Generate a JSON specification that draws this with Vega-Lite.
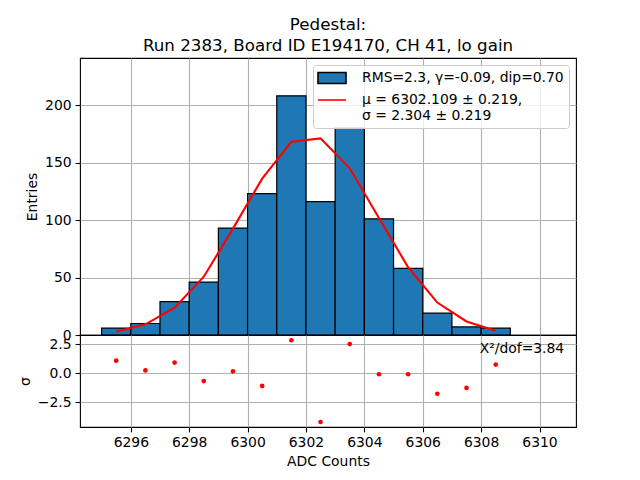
{
  "$schema": "https://vega.github.io/schema/vega-lite/v6.json",
  "autosize": "none",
  "padding": {"left": 80, "top": 58, "right": 560, "bottom": 422},
  "background": "white",
  "spacing": 0,
  "bounds": "flush",
  "title": {
    "text": ["Pedestal:", "Run 2383, Board ID E194170, CH 41, lo gain"],
    "font": "DejaVu Sans",
    "fontSize": 16.7,
    "fontWeight": "normal",
    "color": "black",
    "anchor": "middle",
    "frame": "group",
    "lineHeight": 20.6,
    "offset": 3
  },
  "config": {
    "font": "DejaVu Sans",
    "view": {"stroke": "black", "strokeWidth": 1.1},
    "axis": {
      "labelFont": "DejaVu Sans",
      "labelFontSize": 13.9,
      "labelColor": "black",
      "titleFont": "DejaVu Sans",
      "titleFontSize": 13.9,
      "titleFontWeight": "normal",
      "titleColor": "black",
      "tickColor": "black",
      "tickSize": 4.9,
      "tickWidth": 1.1,
      "labelPadding": 4,
      "titlePadding": 5,
      "domain": false,
      "grid": true,
      "gridColor": "#b0b0b0",
      "gridWidth": 1.1,
      "zindex": 1
    }
  },
  "datasets": {
    "hist": [
      {"lo": 6295, "hi": 6296, "count": 6},
      {"lo": 6296, "hi": 6297, "count": 10},
      {"lo": 6297, "hi": 6298, "count": 29},
      {"lo": 6298, "hi": 6299, "count": 46},
      {"lo": 6299, "hi": 6300, "count": 93},
      {"lo": 6300, "hi": 6301, "count": 123},
      {"lo": 6301, "hi": 6302, "count": 208},
      {"lo": 6302, "hi": 6303, "count": 116},
      {"lo": 6303, "hi": 6304, "count": 180},
      {"lo": 6304, "hi": 6305, "count": 101},
      {"lo": 6305, "hi": 6306, "count": 58},
      {"lo": 6306, "hi": 6307, "count": 19},
      {"lo": 6307, "hi": 6308, "count": 7},
      {"lo": 6308, "hi": 6309, "count": 6}
    ],
    "fit": [
      {"adc": 6295.5, "entries": 2.9},
      {"adc": 6296.5, "entries": 9.3},
      {"adc": 6297.5, "entries": 23.8},
      {"adc": 6298.5, "entries": 50.7},
      {"adc": 6299.5, "entries": 92.5},
      {"adc": 6300.5, "entries": 136},
      {"adc": 6301.5, "entries": 168},
      {"adc": 6302.5, "entries": 171},
      {"adc": 6303.5, "entries": 145},
      {"adc": 6304.5, "entries": 101.8},
      {"adc": 6305.5, "entries": 58.9},
      {"adc": 6306.5, "entries": 28.2},
      {"adc": 6307.5, "entries": 11.8},
      {"adc": 6308.5, "entries": 3.6}
    ],
    "resid": [
      {"adc": 6295.5, "sigma": 1.08},
      {"adc": 6296.5, "sigma": 0.25},
      {"adc": 6297.5, "sigma": 0.92},
      {"adc": 6298.5, "sigma": -0.67},
      {"adc": 6299.5, "sigma": 0.17},
      {"adc": 6300.5, "sigma": -1.08},
      {"adc": 6301.5, "sigma": 2.83},
      {"adc": 6302.5, "sigma": -4.17},
      {"adc": 6303.5, "sigma": 2.5},
      {"adc": 6304.5, "sigma": -0.08},
      {"adc": 6305.5, "sigma": -0.08},
      {"adc": 6306.5, "sigma": -1.75},
      {"adc": 6307.5, "sigma": -1.25},
      {"adc": 6308.5, "sigma": 0.75}
    ]
  },
  "vconcat": [
    {
      "width": 496,
      "height": 277,
      "layer": [
        {
          "data": {"name": "hist"},
          "mark": {"type": "bar", "stroke": "black", "strokeWidth": 1.2, "opacity": 1},
          "encoding": {
            "x": {
              "field": "lo", "type": "quantitative",
              "scale": {"domain": [6294.26, 6311.25], "nice": false, "zero": false},
              "axis": {"values": [6296, 6298, 6300, 6302, 6304, 6306, 6308, 6310], "labels": false, "ticks": false, "title": null, "minExtent": 0, "maxExtent": 0}
            },
            "x2": {"field": "hi"},
            "y": {
              "field": "count", "type": "quantitative",
              "scale": {"domain": [0, 240.9], "nice": false},
              "axis": {"values": [0, 50, 100, 150, 200], "title": "Entries"}
            },
            "y2": {"datum": 0},
            "fill": {
              "datum": "RMS=2.3, γ=-0.09, dip=0.70",
              "type": "nominal",
              "scale": {
                "domain": ["RMS=2.3, γ=-0.09, dip=0.70", "μ = 6302.109 ± 0.219,|σ = 2.304 ± 0.219"],
                "range": ["#1f77b4", "transparent"]
              },
              "legend": {
                "title": null,
                "orient": "top-right",
                "offset": 7,
                "padding": 5,
                "fillColor": "rgba(255,255,255,0.8)",
                "strokeColor": "#cccccc",
                "cornerRadius": 3,
                "labelFont": "DejaVu Sans",
                "labelFontSize": 13.9,
                "labelColor": "black",
                "labelLimit": 0,
                "labelOffset": 22,
                "symbolOffset": 6,
                "rowPadding": 5,
                "symbolSize": 196,
                "symbolOpacity": 1,
                "symbolStrokeWidth": 1.6,
                "labelExpr": "split(datum.label, '|')"
              }
            }
          }
        },
        {
          "data": {"name": "fit"},
          "mark": {"type": "line", "strokeWidth": 2.1},
          "encoding": {
            "x": {"field": "adc", "type": "quantitative"},
            "y": {"field": "entries", "type": "quantitative"},
            "stroke": {
              "datum": "μ = 6302.109 ± 0.219,|σ = 2.304 ± 0.219",
              "type": "nominal",
              "scale": {
                "domain": ["RMS=2.3, γ=-0.09, dip=0.70", "μ = 6302.109 ± 0.219,|σ = 2.304 ± 0.219"],
                "range": ["black", "red"]
              },
              "legend": {"title": null}
            }
          }
        },
        {
          "data": {"name": "fit"},
          "mark": {"type": "point", "size": 0, "opacity": 0, "filled": false, "strokeWidth": 0},
          "encoding": {
            "x": {"field": "adc", "type": "quantitative"},
            "y": {"field": "entries", "type": "quantitative"},
            "shape": {
              "datum": "μ = 6302.109 ± 0.219,|σ = 2.304 ± 0.219",
              "type": "nominal",
              "scale": {
                "domain": ["RMS=2.3, γ=-0.09, dip=0.70", "μ = 6302.109 ± 0.219,|σ = 2.304 ± 0.219"],
                "range": ["M-2,-0.78H2V0.78H-2Z", "M-2,0H2"]
              },
              "legend": {"title": null}
            }
          }
        }
      ]
    },
    {
      "width": 496,
      "height": 92,
      "layer": [
        {
          "data": {"name": "resid"},
          "mark": {"type": "circle", "color": "red", "size": 22, "opacity": 1},
          "encoding": {
            "x": {
              "field": "adc", "type": "quantitative",
              "scale": {"domain": [6294.26, 6311.25], "nice": false, "zero": false},
              "axis": {"values": [6296, 6298, 6300, 6302, 6304, 6306, 6308, 6310], "title": "ADC Counts", "format": "d"}
            },
            "y": {
              "field": "sigma", "type": "quantitative",
              "scale": {"domain": [-4.6, 3.28], "nice": false},
              "axis": {"values": [-2.5, 0, 2.5], "format": ".1f", "title": "σ"}
            }
          }
        },
        {
          "data": {"values": [{"label": "X²/dof=3.84"}]},
          "mark": {"type": "text", "align": "left", "baseline": "middle", "fontSize": 13.9, "font": "DejaVu Sans", "color": "black"},
          "encoding": {
            "text": {"field": "label"},
            "x": {"datum": 6307.95},
            "y": {"datum": 2.08}
          }
        }
      ]
    }
  ]
}
